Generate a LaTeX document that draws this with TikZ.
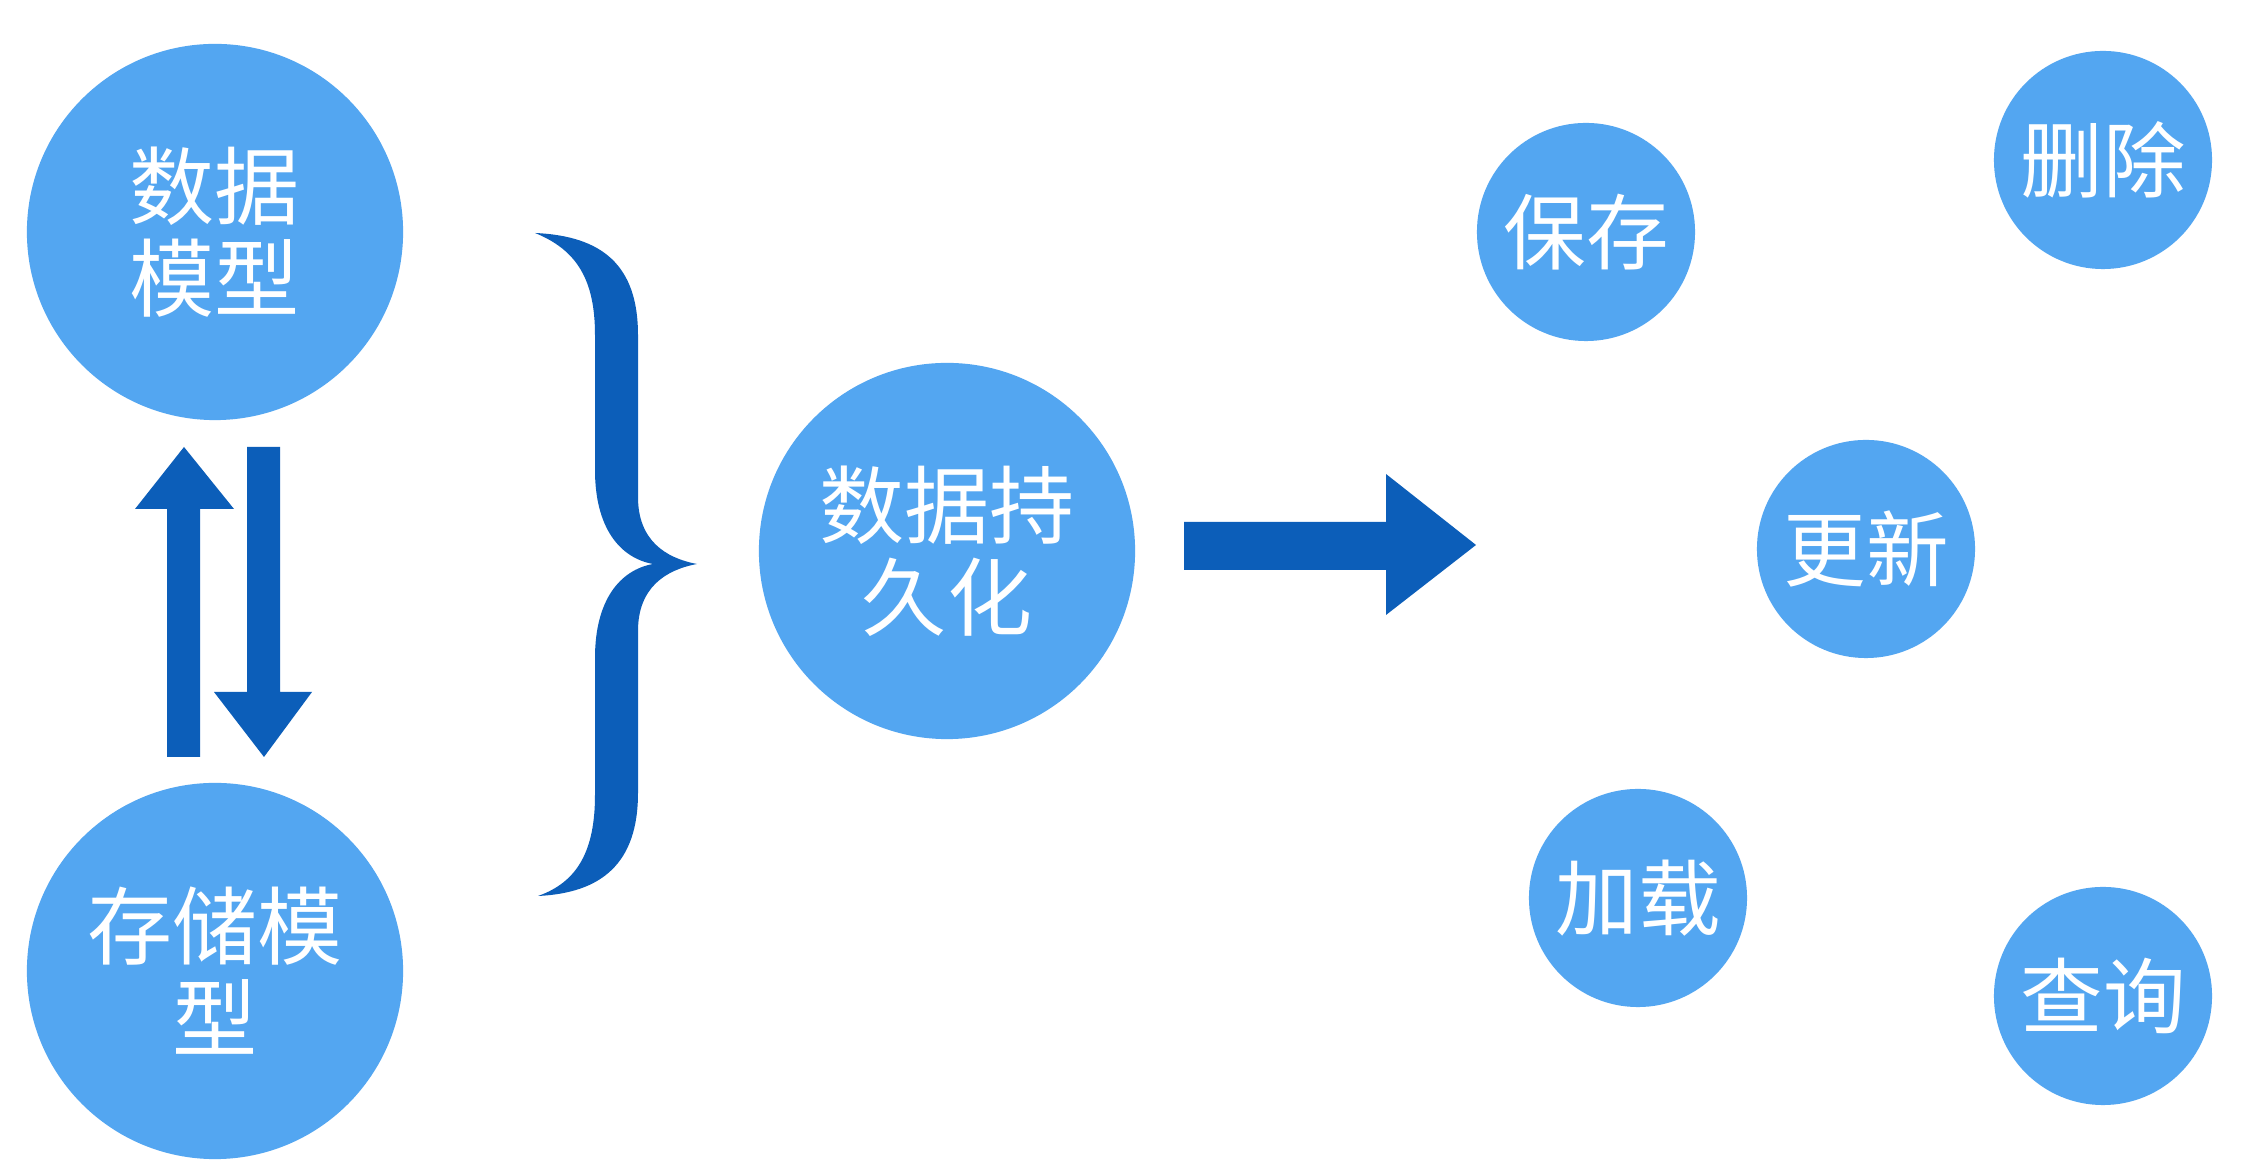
\documentclass[tikz,border=0pt]{standalone}
\usepackage{fontspec}
\newfontfamily\cjk{Noto Sans CJK SC}
\definecolor{circ}{HTML}{53A6F1}
\definecolor{darr}{HTML}{0C5EB9}
\tikzset{
  bigcirc/.style={circle, fill=circ, minimum size=3.76cm, inner sep=0pt, text=white,
    align=center, font=\cjk\fontsize{24.2}{26.2}\selectfont},
  smallcirc/.style={circle, fill=circ, minimum size=2.18cm, inner sep=0pt, text=white,
    font=\cjk\fontsize{23.5}{26}\selectfont},
  blockarrow/.style={fill=darr, draw=none},
}
\begin{document}
\begin{tikzpicture}[x=0.01cm,y=-0.01cm]
\fill[white] (0,0) rectangle (2250,1174);
\useasboundingbox (0,0) rectangle (2250,1174);
% circles
\node[bigcirc] (dm) at (215,232) {数据\\模型};
\node[bigcirc] (sm) at (215,971) {存储模\\型};
\node[bigcirc] (dp) at (947,551) {数据持\\久化};
\node[smallcirc] (bc) at (1586,232) {保存};
\node[smallcirc] (sc) at (2103,160) {删除};
\node[smallcirc] (gx) at (1866,549) {更新};
\node[smallcirc] (jz) at (1638,898) {加载};
\node[smallcirc] (cx) at (2103,996) {查询};
% up / down block arrows between the two models
\fill[blockarrow] (167,757) -- (167,509) -- (135,509) -- (184,447) -- (234,509)
  -- (200,509) -- (200,757) -- cycle;
\fill[blockarrow] (247,447) -- (280,447) -- (280,692) -- (312,692) -- (264,757)
  -- (214,692) -- (247,692) -- cycle;
% brace
\fill[blockarrow] (535,233) .. controls (602,236) and (638,265) .. (638,335)
  -- (638,497) .. controls (638,540) and (665,558) .. (697,564)
  .. controls (665,570) and (638,588) .. (638,631)
  -- (638,793) .. controls (638,863) and (602,893) .. (538,896)
  .. controls (578,882) and (595,850) .. (595,795)
  -- (595,658) .. controls (595,600) and (620,570) .. (653,564)
  .. controls (620,558) and (595,528) .. (595,470)
  -- (595,335) .. controls (595,280) and (577,250) .. (535,233) -- cycle;
% right block arrow
\fill[blockarrow] (1184,522) -- (1386,522) -- (1386,474) -- (1476,545)
  -- (1386,615) -- (1386,570) -- (1184,570) -- cycle;
\end{tikzpicture}
\end{document}
